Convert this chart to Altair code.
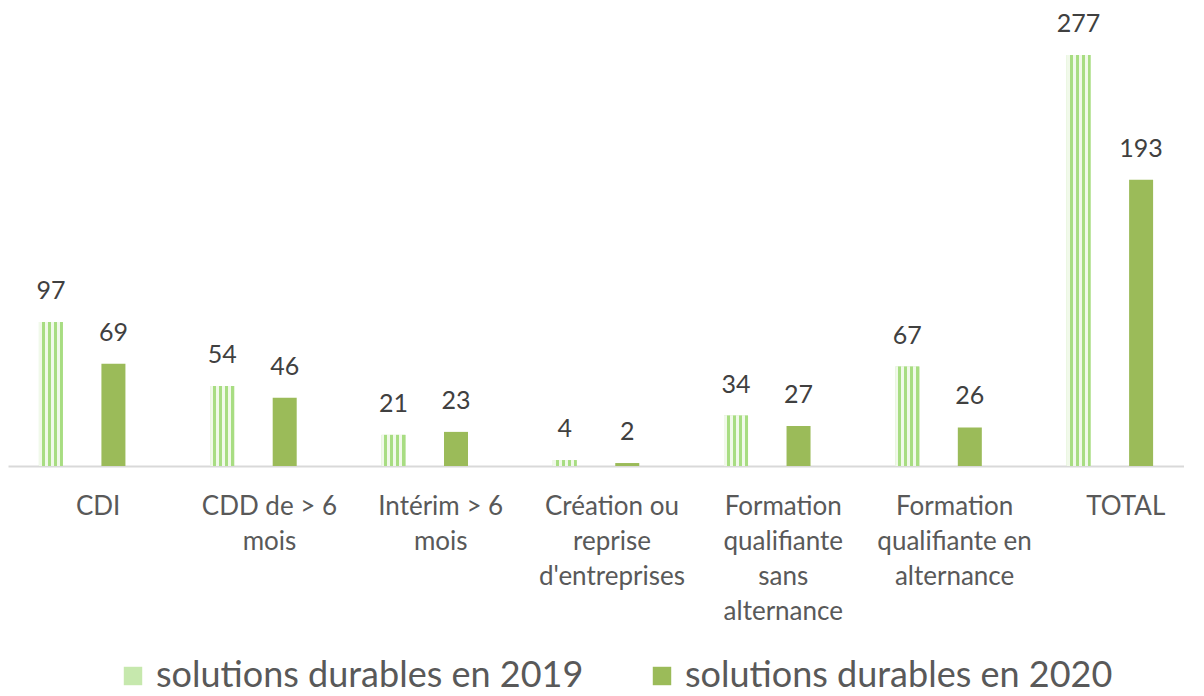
import altair as alt
import pandas as pd

categories = ["CDI", "CDD de > 6|mois", "Intérim  > 6|mois", "Création ou|reprise|d'entreprises",
              "Formation|qualifiante|sans|alternance", "Formation|qualifiante en|alternance", "TOTAL"]
values_2019 = [97, 54, 21, 4, 34, 67, 277]
values_2020 = [69, 46, 23, 2, 27, 26, 193]
series = ["solutions durables en 2019", "solutions durables en 2020"]

rows = []
for c, a, b in zip(categories, values_2019, values_2020):
    rows.append({"cat": c, "serie": series[0], "val": a})
    rows.append({"cat": c, "serie": series[1], "val": b})
df = pd.DataFrame(rows)

FONT = "Lato"
TXT = "#595959"

x = alt.X("cat:N", sort=categories, title=None,
          scale=alt.Scale(paddingInner=0.27, paddingOuter=0.068),
          axis=alt.Axis(labelAngle=0, labelExpr="split(datum.value, '|')", labelFontSize=26,
                        labelFont=FONT, labelColor=TXT, labelLineHeight=35, labelPadding=27,
                        labelOffset=16, ticks=False, domainColor="#d9d9d9", domainWidth=2,
                        labelLimit=300, grid=False))
xo = alt.XOffset("serie:N", sort=series,
                 scale=alt.Scale(paddingInner=0.616, paddingOuter=0.308))
y = alt.Y("val:Q", scale=alt.Scale(domain=[0, 300]), axis=None)

stripes = []
n = 8
for i in range(n):
    col = "#f1f9ea" if i % 2 == 0 else "#a8dd82"
    stripes.append({"offset": i / n, "color": col})
    stripes.append({"offset": (i + 1) / n, "color": col})

base = alt.Chart(df)

bars = base.mark_bar().encode(
    x=x, xOffset=xo, y=y,
    color=alt.Color("serie:N", sort=series,
                    scale=alt.Scale(domain=series, range=["#c6e8ad", "#9bbb59"]),
                    legend=alt.Legend(title=None, orient="none", direction="horizontal",
                                      legendX=107, legendY=637, padding=0,
                                      labelFont=FONT, labelFontSize=36, labelColor=TXT,
                                      labelOffset=5,
                                      symbolType="square", symbolSize=340, symbolStrokeWidth=0,
                                      columnPadding=60, labelLimit=700))
)

pattern = base.transform_filter(alt.datum.serie == series[0]).mark_bar(
    fill=alt.LinearGradient(gradient="linear", x1=0, x2=1, y1=0, y2=0, stops=stripes)
).encode(x=x, xOffset=xo, y=y)

labels = base.mark_text(dy=-18, baseline="bottom", font=FONT, fontSize=25, color="#404040").encode(
    x=x, xOffset=xo, y=y, text="val:Q")

chart = alt.layer(bars, pattern, labels).properties(
    width=1176, height=445,
    autosize=alt.AutoSizeParams(type="none"),
    padding={"left": 0, "top": 13, "right": 0, "bottom": 230},
).configure_view(stroke=None)

chart.save("out.html", embed_options={"renderer": "svg", "actions": False})
